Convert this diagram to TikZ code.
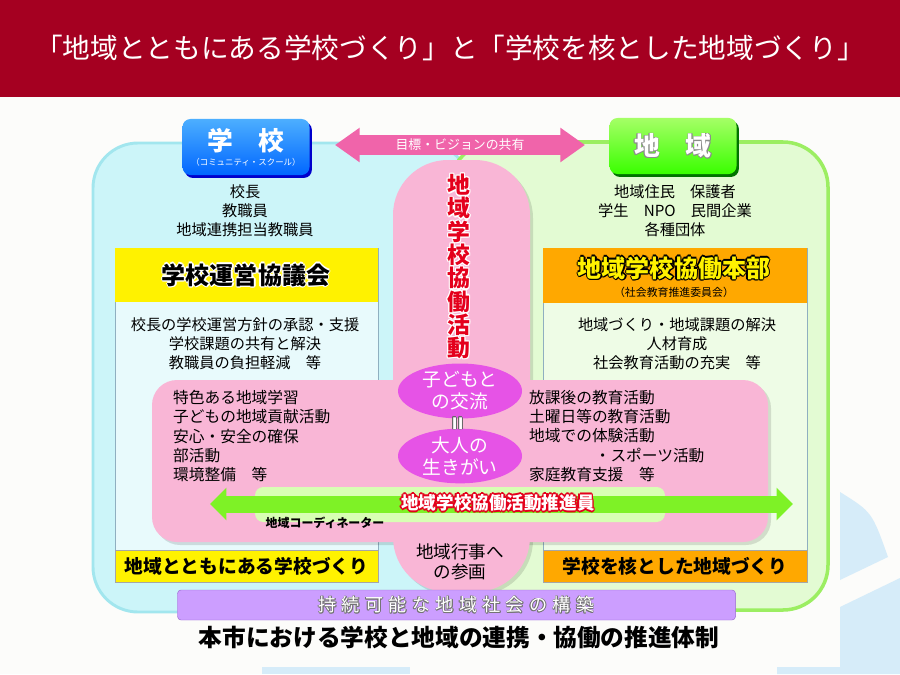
\documentclass[tikz,border=0pt]{standalone}
\usepackage{fontspec}
\setmainfont{Noto Sans CJK JP}
\usetikzlibrary{arrows.meta,shadows,shapes.geometric}

\definecolor{titlered}{HTML}{A50021}
\definecolor{paper}{HTML}{FCFCFA}
\definecolor{watermark}{HTML}{D6ECF9}
\definecolor{schoolcyan}{HTML}{CCF5F9}
\definecolor{schoolline}{HTML}{A2E6EE}
\definecolor{areagreen}{HTML}{E3FBD3}
\definecolor{arealine}{HTML}{9CEE62}
\definecolor{panelblue}{HTML}{E8FAFC}
\definecolor{panelgreen}{HTML}{EEFCE6}
\definecolor{panelline}{HTML}{8FAFC0}
\definecolor{bandpink}{HTML}{F9B6D6}
\definecolor{visionpink}{HTML}{F064AA}
\definecolor{talkviolet}{HTML}{E653E6}
\definecolor{staffgreen}{HTML}{7EF226}
\definecolor{palegreen}{HTML}{D8FFB4}
\definecolor{buildpurple}{HTML}{CC9EFF}
\definecolor{buildline}{HTML}{9A6BD0}
\definecolor{labelyellow}{HTML}{FFF200}
\definecolor{labelorange}{HTML}{FFA800}
\definecolor{markred}{HTML}{E4001C}

\newlength{\halow}
\newcommand{\halocopy}[3]{\rlap{\hspace{#1}\raisebox{#2}{#3}}}
\newcommand{\halo}[4][0.9pt]{\leavevmode\setlength{\halow}{#1}{\color{#2}%
  \halocopy{\halow}{0pt}{#4}\halocopy{-\halow}{0pt}{#4}%
  \halocopy{0pt}{\halow}{#4}\halocopy{0pt}{-\halow}{#4}%
  \halocopy{.7\halow}{.7\halow}{#4}\halocopy{-.7\halow}{.7\halow}{#4}%
  \halocopy{.7\halow}{-.7\halow}{#4}\halocopy{-.7\halow}{-.7\halow}{#4}}%
  {\color{#3}#4}}

\begin{document}
\begin{tikzpicture}
  [x=0.03cm,y=-0.03cm,every node/.style={inner sep=0pt},
   member/.style={font=\fontsize{13}{16.2}\selectfont,align=center},
   listing/.style={font=\fontsize{13.4}{16.6}\selectfont,align=left,anchor=west},
   header/.style={font=\bfseries\fontsize{20.5}{22}\selectfont},
   footer/.style={font=\bfseries\fontsize{16}{18}\selectfont},
   topbox/.style={rounded corners=0.24cm,minimum width=3.81cm,minimum height=1.68cm,
     align=center,text=white},
   talk/.style={ellipse,fill=talkviolet,minimum width=3.72cm,minimum height=1.6cm,
     align=center,text=white,font=\fontsize{16}{18.8}\selectfont}]
  \useasboundingbox (0,0) rectangle (900,674);
  \fill[paper] (0,0) rectangle (900,674);
  \fill[titlered] (0,0) rectangle (900,97);
  \node[text=white,font=\fontsize{23.6}{26}\selectfont] (title) at (450,48)
    {「地域とともにある学校づくり」と「学校を核とした地域づくり」};

  \fill[watermark] (840,492) .. controls (872,512) .. (888,557) -- (840,580) -- cycle;
  \fill[watermark] (840,607) -- (900,578) -- (900,674) -- (777,674) -- (777,667) -- (840,667) -- cycle;
  \fill[watermark] (262,667) rectangle (410,674);

  \draw[fill=schoolcyan,draw=schoolline,line width=2.5pt,rounded corners=1.35cm] (93,143) rectangle (470,612);
  \draw[fill=areagreen,draw=arealine,line width=3pt,rounded corners=1.35cm] (450,142) rectangle (828,610);

  \draw[fill=panelblue,draw=panelline,line width=0.8pt] (115,248) rectangle (378,582);
  \draw[fill=panelgreen,draw=panelline,line width=0.8pt] (543,248) rectangle (807,582);
  \fill[labelyellow] (115,248) rectangle (378,302);
  \fill[labelorange] (543,248) rectangle (807,303);
  \draw[fill=labelyellow,draw=black!35] (115,550) rectangle (378,582);
  \draw[fill=labelorange,draw=black!35] (543,550) rectangle (807,582);

  \begin{scope}[shift={(3,3)}]
    \fill[black,opacity=.12,rounded corners=1.65cm] (393,160) rectangle (530,592);
    \fill[black,opacity=.12,rounded corners=.75cm] (152,380) rectangle (768,542);
  \end{scope}
  \fill[bandpink,rounded corners=1.65cm] (393,160) rectangle (530,592);
  \fill[bandpink,rounded corners=.75cm] (152,380) rectangle (768,542);

  \node[topbox,top color=blue!45!cyan!70,bottom color=blue!60!cyan,
    drop shadow={shadow xshift=2pt,shadow yshift=-2.5pt,fill=blue!80!black,opacity=1}]
    (school) at (246,147) {\bfseries\fontsize{22}{24}\selectfont 学　校\\[1pt]
    \fontsize{7.2}{8}\selectfont （コミュニティ・スクール）};
  \node[topbox,top color=green!45!lime!60,bottom color=green!70!lime,
    drop shadow={shadow xshift=2pt,shadow yshift=-2.5pt,fill=green!45!black,opacity=1},
    font=\bfseries\fontsize{22}{24}\selectfont]
    (area) at (673,146) {\halo[0.5pt]{black!45}{white}{地　域}};

  \coordinate (visionL) at (335,145);
  \coordinate (visionR) at (585,145);
  \draw[visionpink,line width=17pt,{Triangle[length=21pt,width=28pt]}-{Triangle[length=21pt,width=28pt]}]
    (visionL) -- (visionR);
  \node[text=white,font=\fontsize{11}{13}\selectfont] (vision) at (460,145) {目標・ビジョンの共有};

  \node[member] (schoolstaff) at (245,211) {校長\\教職員\\地域連携担当教職員};
  \node[member] (areapeople) at (675,211) {地域住民　保護者\\学生　NPO　民間企業\\各種団体};

  \node[header] (council) at (246,275) {\halo[1.1pt]{white}{black}{学校運営協議会}};
  \node[header] (hq) at (674,268) {\halo[1.1pt]{black}{labelyellow}{地域学校協働本部}};
  \node[font=\fontsize{9.3}{11}\selectfont] (hqsub) at (674,292) {（社会教育推進委員会）};

  \node[member] (councilduty) at (245,344) {校長の学校運営方針の承認・支援\\学校課題の共有と解決\\教職員の負担軽減　等};
  \node[member] (hqduty) at (677,344) {地域づくり・地域課題の解決\\人材育成\\社会教育活動の充実　等};

  \foreach \ch [count=\i] in {地,域,学,校,協,働,活,動}
    \node[font=\bfseries\fontsize{19.5}{20}\selectfont] (work\i) at (459,{185+23.3*(\i-1)})
      {\halo[1.1pt]{white}{markred}{\ch}};

  \node[listing] (schoolacts) at (173,436)
    {特色ある地域学習\\子どもの地域貢献活動\\安心・安全の確保\\部活動\\環境整備　等};
  \node[listing] (areaacts) at (529,436)
    {放課後の教育活動\\土曜日等の教育活動\\地域での体験活動\\\hspace{56pt}・スポーツ活動\\家庭教育支援　等};

  \node[talk] (kids) at (460,391) {子どもと\\の交流};
  \node[talk] (adults) at (460,456) {大人の\\生きがい};
  \node[rotate=90,font=\bfseries\fontsize{19}{19}\selectfont] (equal) at (460,423.5) {\halo[0.6pt]{black!60}{white}{=}};

  \fill[palegreen,rounded corners=.25cm] (255,487) rectangle (665,522);
  \coordinate (staffL) at (210,504);
  \coordinate (staffR) at (793,504);
  \draw[staffgreen,line width=14.5pt,{Triangle[length=14pt,width=27pt]}-{Triangle[length=14pt,width=27pt]}]
    (staffL) -- (staffR);
  \node[font=\bfseries\fontsize{15}{17}\selectfont] (staff) at (498,503)
    {\halo[1.6pt]{markred}{white}{地域学校協働活動推進員}};
  \node[font=\bfseries\fontsize{10.2}{12}\selectfont] (coordinator) at (325,523) {地域コーディネーター};

  \node[font=\fontsize{15}{17}\selectfont,align=center] (event) at (460,562) {地域行事へ\\の参画};
  \node[footer] (schoolgoal) at (246.5,566) {地域とともにある学校づくり};
  \node[footer] (areagoal) at (675,566) {学校を核とした地域づくり};

  \node[fill=buildpurple,draw=buildline,rounded corners=3pt,minimum width=16.74cm,minimum height=0.9cm,
    font=\fontsize{15.5}{17}\selectfont] (build) at (456.5,605)
    {\addfontfeatures{LetterSpace=29}\halo[0.6pt]{black!55}{white}{持続可能な地域社会の構築}};
  \node[font=\bfseries\fontsize{20.2}{24}\selectfont] (caption) at (459,637)
    {本市における学校と地域の連携・協働の推進体制};
\end{tikzpicture}
\end{document}
